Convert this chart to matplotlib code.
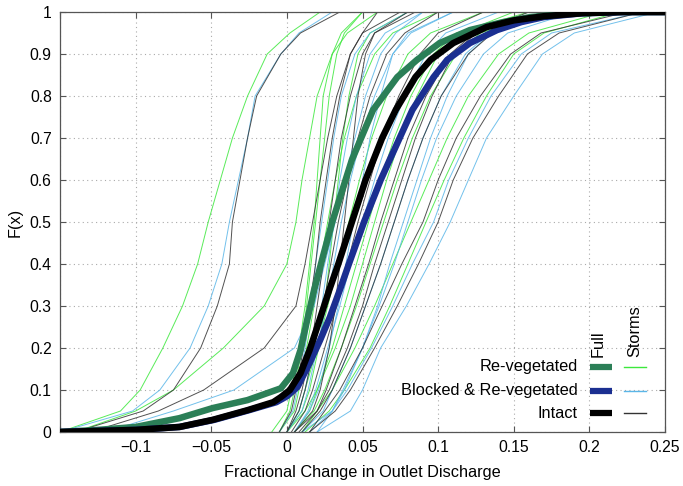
import matplotlib
matplotlib.use("Agg")
import matplotlib.pyplot as plt

plt.rcParams['font.family'] = ['Liberation Sans', 'DejaVu Sans']

# full-record curves, read as (x, F) pairs along each line
reveg_F = [0, 0.005, 0.012, 0.033, 0.057, 0.076, 0.104, 0.14, 0.195, 0.26, 0.338, 0.42,
           0.5, 0.648, 0.767, 0.845, 0.886, 0.926, 0.957, 0.976, 0.988, 0.997, 1.0, 1.0]
reveg_x = [-0.15, -0.125, -0.10, -0.071, -0.049, -0.026, -0.004, 0.004, 0.009, 0.013, 0.018, 0.024,
           0.030, 0.043, 0.057, 0.073, 0.086, 0.101, 0.121, 0.143, 0.161, 0.19, 0.22, 0.25]
blocked_F = [0, 0.005, 0.012, 0.029, 0.052, 0.071, 0.085, 0.107, 0.164, 0.219, 0.274, 0.338,
             0.4, 0.5, 0.6, 0.648, 0.767, 0.845, 0.886, 0.926, 0.957, 0.976, 0.988, 0.997, 1.0, 1.0]
blocked_x = [-0.15, -0.10, -0.071, -0.048, -0.025, -0.007, 0.0, 0.007, 0.015, 0.022, 0.0285, 0.035,
             0.041, 0.051, 0.062, 0.068, 0.083, 0.097, 0.106, 0.121, 0.139, 0.155, 0.17, 0.195, 0.225, 0.25]
intact_F = [0, 0.005, 0.012, 0.029, 0.052, 0.071, 0.083, 0.1, 0.14, 0.195, 0.26, 0.338,
            0.4, 0.5, 0.6, 0.7, 0.767, 0.845, 0.886, 0.926, 0.964, 0.98, 0.99, 0.997, 1.0, 1.0]
intact_x = [-0.15, -0.10, -0.071, -0.049, -0.026, -0.009, -0.004, 0.002, 0.009, 0.015, 0.021, 0.028,
            0.034, 0.043, 0.052, 0.063, 0.072, 0.085, 0.095, 0.110, 0.132, 0.150, 0.170, 0.195, 0.222, 0.25]

# cumulative probability levels used for the storm curves
F_storm = [0, 0.05, 0.1, 0.2, 0.3, 0.4, 0.5, 0.6, 0.7, 0.8, 0.9, 0.95, 1.0]

storms_reveg = [
    [-0.15, -0.11, -0.097, -0.082, -0.069, -0.059, -0.052, -0.044, -0.036, -0.026, -0.013, 0.002, 0.022],
    [-0.14, -0.10, -0.075, -0.042, -0.015, 0.0, 0.006, 0.010, 0.015, 0.020, 0.030, 0.040, 0.060],
    [-0.01, 0.0, 0.003, 0.008, 0.012, 0.015, 0.018, 0.020, 0.022, 0.024, 0.030, 0.036, 0.050],
    [-0.005, 0.005, 0.008, 0.013, 0.018, 0.022, 0.027, 0.032, 0.038, 0.046, 0.058, 0.070, 0.100],
    [0.0, 0.008, 0.012, 0.020, 0.027, 0.034, 0.041, 0.048, 0.056, 0.066, 0.080, 0.095, 0.130],
    [0.010, 0.020, 0.030, 0.045, 0.058, 0.070, 0.082, 0.094, 0.106, 0.120, 0.140, 0.160, 0.210],
    [0.012, 0.028, 0.038, 0.055, 0.068, 0.080, 0.092, 0.104, 0.117, 0.132, 0.150, 0.170, 0.220],
    [0.0, 0.010, 0.015, 0.021, 0.025, 0.028, 0.031, 0.034, 0.037, 0.041, 0.047, 0.055, 0.080],
    [0.005, 0.015, 0.020, 0.030, 0.038, 0.046, 0.054, 0.062, 0.071, 0.082, 0.097, 0.112, 0.160],
    [0.0, 0.012, 0.020, 0.032, 0.042, 0.050, 0.058, 0.066, 0.075, 0.086, 0.100, 0.115, 0.150],
    [-0.005, 0.002, 0.005, 0.010, 0.013, 0.016, 0.019, 0.022, 0.025, 0.028, 0.033, 0.038, 0.050],
    [0.005, 0.018, 0.025, 0.036, 0.046, 0.055, 0.064, 0.073, 0.083, 0.095, 0.112, 0.128, 0.170],
]
storms_blocked = [
    [-0.15, -0.102, -0.084, -0.064, -0.052, -0.043, -0.038, -0.032, -0.026, -0.021, -0.004, 0.008, 0.030],
    [-0.12, -0.075, -0.035, 0.005, 0.018, 0.025, 0.032, 0.038, 0.045, 0.052, 0.062, 0.072, 0.090],
    [-0.005, 0.004, 0.007, 0.012, 0.016, 0.019, 0.023, 0.027, 0.031, 0.036, 0.045, 0.055, 0.080],
    [0.0, 0.010, 0.014, 0.020, 0.026, 0.031, 0.036, 0.042, 0.049, 0.058, 0.070, 0.082, 0.110],
    [0.005, 0.014, 0.019, 0.027, 0.035, 0.042, 0.050, 0.058, 0.067, 0.078, 0.092, 0.105, 0.140],
    [0.020, 0.030, 0.040, 0.056, 0.070, 0.083, 0.097, 0.107, 0.120, 0.135, 0.155, 0.175, 0.235],
    [0.020, 0.042, 0.050, 0.062, 0.079, 0.094, 0.108, 0.120, 0.132, 0.150, 0.169, 0.190, 0.245],
    [0.005, 0.015, 0.021, 0.028, 0.034, 0.039, 0.044, 0.050, 0.055, 0.062, 0.070, 0.080, 0.110],
    [0.010, 0.024, 0.030, 0.042, 0.052, 0.062, 0.071, 0.080, 0.090, 0.102, 0.118, 0.134, 0.180],
    [0.010, 0.030, 0.038, 0.050, 0.060, 0.068, 0.077, 0.086, 0.095, 0.106, 0.120, 0.135, 0.170],
    [0.0, 0.008, 0.012, 0.018, 0.023, 0.027, 0.031, 0.035, 0.040, 0.046, 0.055, 0.065, 0.090],
    [0.015, 0.030, 0.037, 0.050, 0.061, 0.071, 0.080, 0.089, 0.099, 0.112, 0.130, 0.146, 0.190],
]
storms_intact = [
    [-0.14, -0.095, -0.075, -0.057, -0.046, -0.038, -0.036, -0.031, -0.026, -0.020, -0.004, 0.009, 0.035],
    [-0.13, -0.085, -0.055, -0.015, 0.006, 0.012, 0.017, 0.022, 0.027, 0.033, 0.042, 0.050, 0.060],
    [-0.005, 0.003, 0.006, 0.011, 0.015, 0.019, 0.022, 0.026, 0.030, 0.035, 0.042, 0.050, 0.075],
    [0.0, 0.008, 0.012, 0.018, 0.024, 0.029, 0.034, 0.040, 0.047, 0.055, 0.066, 0.078, 0.100],
    [0.003, 0.012, 0.017, 0.025, 0.033, 0.040, 0.047, 0.055, 0.063, 0.074, 0.088, 0.100, 0.130],
    [0.015, 0.025, 0.035, 0.050, 0.063, 0.076, 0.090, 0.100, 0.112, 0.128, 0.148, 0.168, 0.225],
    [0.015, 0.032, 0.042, 0.058, 0.073, 0.087, 0.100, 0.110, 0.123, 0.140, 0.159, 0.180, 0.235],
    [0.005, 0.017, 0.022, 0.028, 0.032, 0.035, 0.038, 0.041, 0.044, 0.047, 0.052, 0.058, 0.080],
    [0.008, 0.020, 0.026, 0.036, 0.045, 0.054, 0.062, 0.071, 0.080, 0.092, 0.108, 0.124, 0.170],
    [0.005, 0.020, 0.028, 0.040, 0.050, 0.058, 0.067, 0.076, 0.085, 0.096, 0.110, 0.125, 0.160],
    [0.0, 0.006, 0.010, 0.016, 0.020, 0.024, 0.028, 0.032, 0.036, 0.042, 0.050, 0.058, 0.085],
    [0.010, 0.022, 0.030, 0.042, 0.052, 0.062, 0.071, 0.080, 0.090, 0.102, 0.120, 0.136, 0.180],
]

x_ticks = [-0.15, -0.1, -0.05, 0, 0.05, 0.1, 0.15, 0.2, 0.25]
x_ticklabels = ['', '\u22120.1', '\u22120.05', '0', '0.05', '0.1', '0.15', '0.2', '0.25']
y_ticks = [0, 0.1, 0.2, 0.3, 0.4, 0.5, 0.6, 0.7, 0.8, 0.9, 1]
y_ticklabels = ['0', '0.1', '0.2', '0.3', '0.4', '0.5', '0.6', '0.7', '0.8', '0.9', '1']

series_names = ['Re-vegetated', 'Blocked & Re-vegetated', 'Intact']
full_colors = ['#2b7f57', '#1b2f91', '#000000']
storm_colors = ['#3ce83c', '#5ab6e8', '#333333']

fig = plt.figure(figsize=(6.83, 4.86), dpi=100)
ax = fig.add_axes([60 / 683, 54 / 486, 605 / 683, 420 / 486])

for curves, col in zip([storms_reveg, storms_blocked, storms_intact], storm_colors):
    for xs in curves:
        ax.plot(xs, F_storm, color=col, lw=0.7, alpha=0.85, zorder=2)

full_x = [reveg_x, blocked_x, intact_x]
full_F = [reveg_F, blocked_F, intact_F]
for xs, fs, col in zip(full_x, full_F, full_colors):
    ax.plot(xs, fs, color=col, lw=4.7, solid_capstyle='butt',
            solid_joinstyle='round', zorder=3)

ax.set_xlim(-0.15, 0.25)
ax.set_ylim(0, 1)
ax.set_xticks(x_ticks)
ax.set_xticklabels(x_ticklabels)
ax.set_yticks(y_ticks)
ax.set_yticklabels(y_ticklabels)
ax.tick_params(direction='in', length=4, width=0.8, color='#555555',
               top=True, right=True, labelsize=11.3, pad=6)
for sp in ax.spines.values():
    sp.set_color('#555555')
    sp.set_linewidth(0.9)
ax.grid(True, linestyle=(0, (1, 3)), color='#aaaaaa', linewidth=0.8)
ax.set_axisbelow(True)

ax.set_xlabel('Fractional Change in Outlet Discharge', fontsize=11.7, labelpad=7)
ax.set_ylabel('F(x)', fontsize=11.7, labelpad=5)

# hand-built legend: thick = full record, thin = storms
rows_y = [0.155, 0.098, 0.045]
for name, fc, sc, ry in zip(series_names, full_colors, storm_colors, rows_y):
    ax.text(0.856, ry, name, transform=ax.transAxes, ha='right', va='center',
            fontsize=11.8, zorder=5)
    ax.plot([0.876, 0.912], [ry, ry], transform=ax.transAxes, color=fc, lw=4.5,
            solid_capstyle='butt', zorder=5)
    ax.plot([0.932, 0.969], [ry, ry], transform=ax.transAxes, color=sc, lw=1.0,
            zorder=5)
ax.text(0.889, 0.178, 'Full', transform=ax.transAxes, rotation=90,
        ha='center', va='bottom', fontsize=11.8, zorder=5)
ax.text(0.950, 0.178, 'Storms', transform=ax.transAxes, rotation=90,
        ha='center', va='bottom', fontsize=11.8, zorder=5)

fig.savefig('out.png', dpi=100)
